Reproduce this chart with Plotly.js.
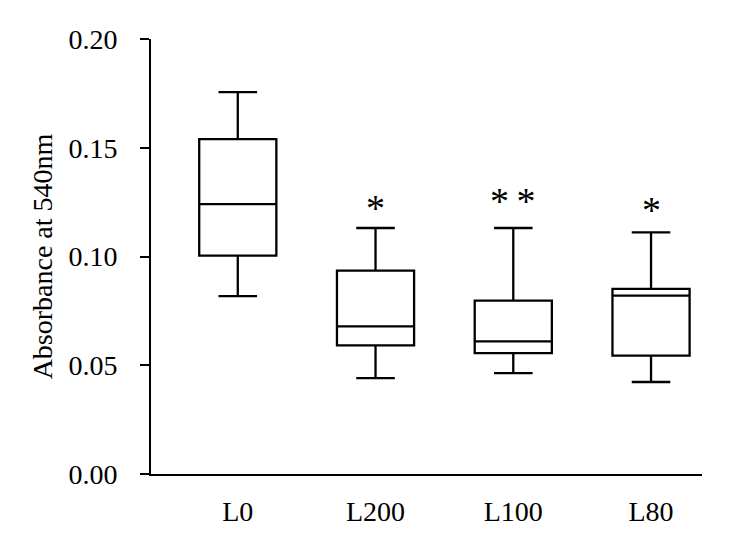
<!DOCTYPE html>
<html>
<head>
<meta charset="utf-8">
<script src="https://cdn.plot.ly/plotly-3.0.1.min.js"></script>
<style>
  body { margin: 0; background: #fff; }
</style>
</head>
<body>
<div id="chart" style="width:738px;height:547px;"></div>
<script>
// box summary values
const groups = ['L0', 'L200', 'L100', 'L80'];
const upper = [0.1756, 0.1131, 0.1131, 0.1111];
const q3 = [0.1540, 0.0935, 0.0797, 0.0851];
const med = [0.1241, 0.0679, 0.0610, 0.0820];
const q1 = [0.1004, 0.0591, 0.0556, 0.0544];
const lower = [0.0818, 0.0441, 0.0464, 0.0423];

// significance marks
const sigGroups = ['L200', 'L100', 'L80'];
const sigText = ['*', '*\u2009*', '*'];
const sigY = [0.1225, 0.1255, 0.1215];

const font = 'Liberation Serif, Times New Roman, serif';

Plotly.newPlot('chart', [{
  type: 'box',
  x: groups,
  q1: q1,
  median: med,
  q3: q3,
  lowerfence: lower,
  upperfence: upper,
  boxpoints: false,
  width: 0.56,
  whiskerwidth: 0.5,
  fillcolor: 'white',
  line: { color: 'black', width: 2.3 },
  hoverinfo: 'skip'
}], {
  width: 738,
  height: 547,
  margin: { l: 151, r: 36, t: 39, b: 73, pad: 0 },
  showlegend: false,
  plot_bgcolor: 'white',
  paper_bgcolor: 'white',
  font: { family: font, size: 27, color: 'black' },
  xaxis: {
    type: 'category',
    range: [-0.63, 3.37],
    showline: true,
    linecolor: 'black',
    linewidth: 2,
    ticks: '',
    showgrid: false,
    zeroline: false,
    ticklabelstandoff: 11,
    tickfont: { family: font, size: 28, color: 'black' }
  },
  yaxis: {
    range: [0, 0.2],
    dtick: 0.05,
    tickformat: '.2f',
    showline: true,
    linecolor: 'black',
    linewidth: 2,
    ticks: 'outside',
    ticklen: 9,
    tickwidth: 2,
    tickcolor: 'black',
    showgrid: false,
    zeroline: false,
    ticklabelstandoff: 17,
    tickfont: { family: font, size: 28, color: 'black' },
    title: {
      text: 'Absorbance at 540nm',
      font: { family: font, size: 28, color: 'black' },
      standoff: 8
    }
  },
  annotations: sigGroups.map((g, i) => ({
    x: g,
    y: sigY[i],
    xref: 'x',
    yref: 'y',
    text: sigText[i],
    showarrow: false,
    yanchor: 'middle',
    font: { family: font, size: 38, color: 'black' }
  }))
}, {
  staticPlot: true
});
</script>
</body>
</html>
